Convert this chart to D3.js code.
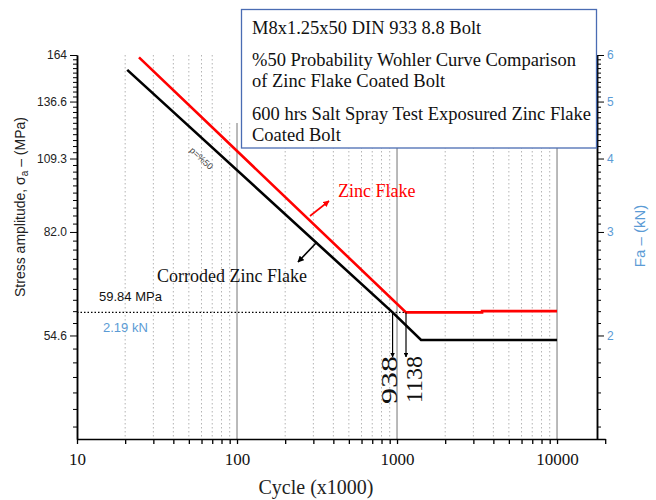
<!DOCTYPE html>
<html><head><meta charset="utf-8">
<script src="https://cdn.jsdelivr.net/npm/d3@7"></script>
<style>body{margin:0;background:#fff}svg{display:block}</style>
</head><body>
<svg id="c" width="656" height="500"></svg>
<script>
// ---- data ----
const xMajorTicks = [10, 100, 1000, 10000];
const xTickLabels = ["10", "100", "1000", "10000"];
const xMinorTicks = [20,30,40,50,60,70,80,90,200,300,400,500,600,700,800,900,2000,3000,4000,5000,6000,7000,8000,9000,20000];
const gridMajor = [100, 1000, 10000];
const gridMinor = [20,30,40,50,60,70,80,90,200,300,400,500,600,700,800,900,2000,3000,4000,5000,6000,7000,8000,9000];
const forceTicksKN = [6, 5, 4, 3, 2];
const stressTickLabels = ["164", "136.6", "109.3", "82.0", "54.6"];
const forceTickLabels = ["6", "5", "4", "3", "2"];
const forceMinorKN = [1.4,1.5,1.6,1.7,1.8,1.9,2.1,2.2,2.3,2.4,2.5,2.6,2.7,2.8,2.9,3.1,3.2,3.3,3.4,3.5,3.6,3.7,3.8,3.9,4.1,4.2,4.3,4.4,4.5,4.6,4.7,4.8,4.9,5.1,5.2,5.3,5.4,5.5,5.6,5.7,5.8,5.9];
const mpaPerKN = 164 / 6;
const zincFlakeN = [24.4, 1138, 3400, 3400, 10000];
const zincFlakeS = [162.5, 59.84, 59.84, 60.15, 60.15];
const corrodedN = [20.6, 938, 1413, 10000];
const corrodedS = [154.7, 59.84, 53.7, 53.7];
const endurance = 59.84;
const lifeMarks = [938, 1138];
const boxLines = ["M8x1.25x50 DIN 933 8.8 Bolt", "%50 Probability Wohler Curve Comparison", "of Zinc Flake Coated Bolt", "600 hrs Salt Spray Test Exposured Zinc Flake", "Coated Bolt"];

// ---- scales ----
const svg = d3.select("#c");
const x = d3.scaleLog().domain([10, 20000]).range([77, 605.2]);
const y = d3.scaleLog().domain([mpaPerKN * 4 / 3, 164]).range([439, 55]);
const xRightAxis = 597;
const SERIF = "'Liberation Serif','Times New Roman',serif";
const SANS = "'Liberation Sans',Arial,sans-serif";
const BLUE = "#5b9bd5";

const defs = svg.append("defs");
function marker(id, color) {
  defs.append("marker").attr("id", id).attr("viewBox", "0 0 10 10").attr("refX", 9).attr("refY", 5)
    .attr("markerWidth", 4).attr("markerHeight", 4).attr("orient", "auto")
    .append("path").attr("d", "M0,0L10,5L0,10z").attr("fill", color);
}
marker("ab", "#000"); marker("ar", "#f00");

// ---- grid ----
const grid = svg.append("g");
grid.selectAll("line.mi").data(gridMinor).join("line")
  .attr("x1", d => x(d)).attr("x2", d => x(d)).attr("y1", 55).attr("y2", 439)
  .attr("stroke", "#b4b4b4").attr("stroke-width", 1).attr("stroke-dasharray", "1.5,2.5");
grid.selectAll("line.ma").data(gridMajor).join("line")
  .attr("x1", d => x(d)).attr("x2", d => x(d)).attr("y1", 55).attr("y2", 439)
  .attr("stroke", "#8c8c8c").attr("stroke-width", 1.2);

// white patch covering grid top
svg.append("rect").attr("x", 218).attr("y", 40).attr("width", 379).attr("height", 83).attr("fill", "#fff");

// ---- axes ----
const gx = svg.append("g").attr("transform", "translate(0,439)");
gx.call(d3.axisBottom(x).tickValues(xMajorTicks.concat(xMinorTicks)).tickSize(5).tickSizeOuter(0)
  .tickFormat(d => { const i = xMajorTicks.indexOf(d); return i >= 0 ? xTickLabels[i] : ""; }));
gx.select(".domain").attr("stroke-width", 1.5);
gx.selectAll(".tick line").attr("stroke-width", 1.3);
gx.selectAll("text").attr("font-family", SERIF).attr("font-size", 17).attr("fill", "#111").attr("dy", "1.05em");

const gl = svg.append("g").attr("transform", "translate(77,0)");
gl.call(d3.axisLeft(y).tickValues(forceMinorKN.map(k => k * mpaPerKN)).tickSize(4).tickSizeOuter(0).tickFormat(""));
gl.call(g => g.append("g").call(d3.axisLeft(y).tickValues(forceTicksKN.map(k => k * mpaPerKN)).tickSize(7).tickSizeOuter(0)
  .tickFormat((d, i) => stressTickLabels[i])));
gl.selectAll(".domain").attr("stroke-width", 1.5);
gl.selectAll("text").attr("font-family", SANS).attr("font-size", 12).attr("fill", "#222");

const gr = svg.append("g").attr("transform", `translate(${xRightAxis},0)`);
gr.call(d3.axisRight(y).tickValues(forceMinorKN.map(k => k * mpaPerKN)).tickSize(4).tickSizeOuter(0).tickFormat(""));
gr.call(g => g.append("g").call(d3.axisRight(y).tickValues(forceTicksKN.map(k => k * mpaPerKN)).tickSize(7).tickSizeOuter(0)
  .tickFormat((d, i) => forceTickLabels[i])));
gr.selectAll(".domain").attr("stroke-width", 1.5);
gr.selectAll("text").attr("font-family", SANS).attr("font-size", 12).attr("fill", BLUE);

// axis titles
svg.append("text").attr("transform", "translate(25,207) rotate(-90)").attr("text-anchor", "middle")
  .attr("font-family", SANS).attr("font-size", 14).attr("fill", "#222")
  .html('Stress amplitude, σ<tspan font-size="10" dy="3">a</tspan><tspan dy="-3"> – (MPa)</tspan>');
svg.append("text").attr("transform", "translate(645,236) rotate(-90)").attr("text-anchor", "middle")
  .attr("font-family", SANS).attr("font-size", 15).attr("fill", BLUE).text("Fa – (kN)");
svg.append("text").attr("x", 316).attr("y", 494).attr("text-anchor", "middle")
  .attr("font-family", SERIF).attr("font-size", 20).attr("fill", "#222").text("Cycle (x1000)");

// ---- endurance reference line ----
svg.append("line").attr("x1", 77).attr("x2", x(1138)).attr("y1", y(endurance)).attr("y2", y(endurance))
  .attr("stroke", "#000").attr("stroke-width", 1.2).attr("stroke-dasharray", "1.5,2");
svg.append("text").attr("x", 99).attr("y", 301).attr("font-family", SANS).attr("font-size", 13).attr("fill", "#111").text("59.84 MPa");
svg.append("text").attr("x", 103).attr("y", 332).attr("font-family", SANS).attr("font-size", 13).attr("fill", BLUE).text("2.19 kN");

// ---- curves ----
const line = d3.line().x(d => x(d[0])).y(d => y(d[1]));
svg.append("path").datum(corrodedN.map((n, i) => [n, corrodedS[i]])).attr("d", line)
  .attr("fill", "none").attr("stroke", "#000").attr("stroke-width", 2.6);
svg.append("path").datum(zincFlakeN.map((n, i) => [n, zincFlakeS[i]])).attr("d", line)
  .attr("fill", "none").attr("stroke", "#f00").attr("stroke-width", 2.6);

// life arrows
svg.selectAll("line.life").data(lifeMarks).join("line")
  .attr("x1", d => x(d)).attr("x2", d => x(d)).attr("y1", y(endurance)).attr("y2", 357)
  .attr("stroke", "#000").attr("stroke-width", 1.2).attr("marker-end", "url(#ab)");
svg.append("text").attr("transform", "translate(397,356) rotate(-90)").attr("text-anchor", "end")
  .attr("font-family", SERIF).attr("font-size", 24).attr("fill", "#111")
  .attr("textLength", 48).attr("lengthAdjust", "spacingAndGlyphs").text(String(lifeMarks[0]));
svg.append("text").attr("transform", "translate(422,356) rotate(-90)").attr("text-anchor", "end")
  .attr("font-family", SERIF).attr("font-size", 24).attr("fill", "#111").text(String(lifeMarks[1]));

// labels with arrows
svg.append("line").attr("x1", 310).attr("y1", 216).attr("x2", 329).attr("y2", 201)
  .attr("stroke", "#f00").attr("stroke-width", 1.6).attr("marker-end", "url(#ar)");
svg.append("text").attr("x", 338).attr("y", 197).attr("font-family", SERIF).attr("font-size", 18).attr("fill", "#f00").text("Zinc Flake");
svg.append("line").attr("x1", 317).attr("y1", 242).attr("x2", 298).attr("y2", 262)
  .attr("stroke", "#000").attr("stroke-width", 1.6).attr("marker-end", "url(#ab)");
svg.append("text").attr("x", 157).attr("y", 282).attr("font-family", SERIF).attr("font-size", 18).attr("fill", "#111").text("Corroded Zinc Flake");
svg.append("text").attr("transform", "translate(189,151) rotate(43)")
  .attr("font-family", SANS).attr("font-size", 9).attr("fill", "#444").text("p=%50");

// ---- title box ----
svg.append("rect").attr("x", 241.5).attr("y", 9.5).attr("width", 355).attr("height", 138.5)
  .attr("fill", "#fff").attr("stroke", "#4a6cb3").attr("stroke-width", 1.3);
const boxY = [34, 66, 87, 120, 141];
svg.selectAll("text.box").data(boxLines).join("text")
  .attr("x", 252).attr("y", (d, i) => boxY[i])
  .attr("font-family", SERIF).attr("font-size", 18.5).attr("fill", "#111").text(d => d);
</script>
</body></html>
